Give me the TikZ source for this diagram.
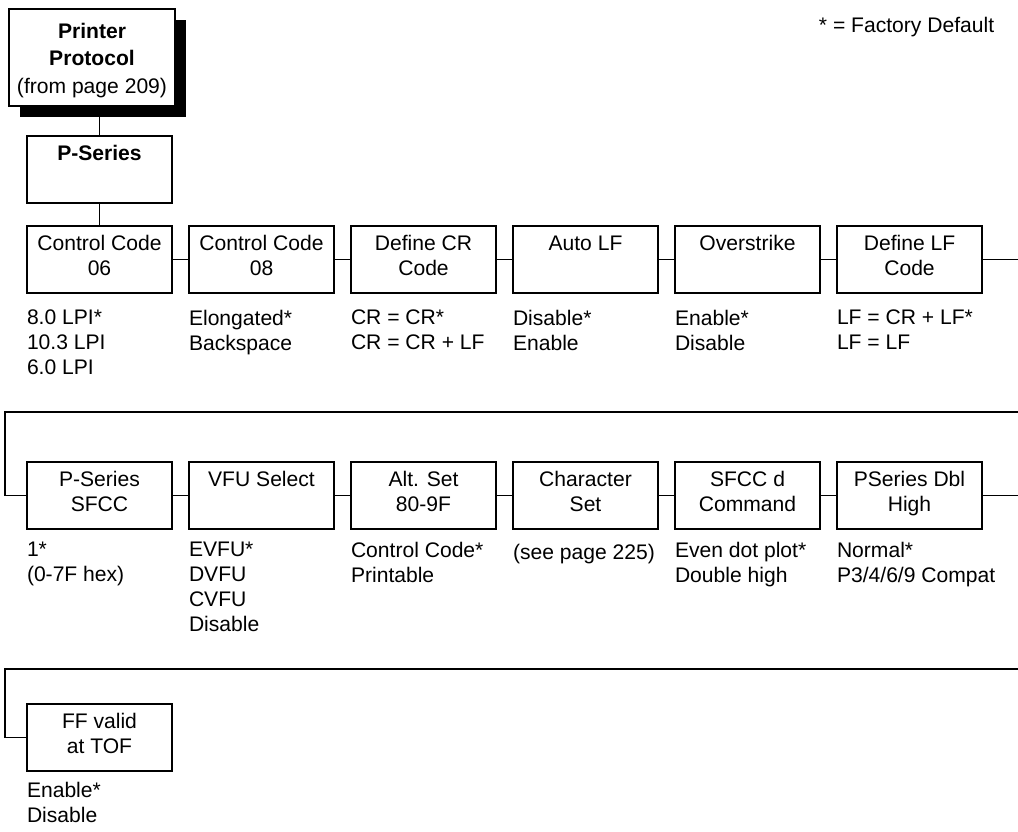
\documentclass[tikz,border=0pt]{standalone}
\usepackage{fontspec}
\setmainfont{Liberation Sans}
\usetikzlibrary{shadows}

\tikzset{
  menubox/.style={draw, rectangle, fill=white, minimum width=2.9cm, minimum height=1.34cm, align=center, inner sep=0pt,
    execute at begin node=\strut, execute at end node=\strut},
  optlist/.style={anchor=north west, align=left, inner sep=0pt, execute at begin node=\strut},
}

\begin{document}
\begin{tikzpicture}[line width=1.1pt, every node/.style={font=\fontsize{12}{14.2}\selectfont}]
\useasboundingbox (0,0) rectangle (20.36,-16.62);
\coordinate (edgeR) at (20.5,0);
\coordinate (wrap1) at (0.1,-8.24);
\coordinate (wrap2) at (0.1,-13.38);
\node[anchor=west, inner sep=0pt] (legend) at (16.36,-0.54) {* = Factory Default};
\node[menubox, minimum width=3.32cm, minimum height=1.94cm, drop shadow={shadow xshift=0.21cm, shadow yshift=-0.21cm, fill=black, opacity=1}] (proto) at (1.84,-1.15) {\rule{0pt}{13.9pt}\textbf{Printer}\\[1.3pt]\textbf{Protocol}\\[1.3pt](from page 209)};
\node[menubox] (pseries) at (1.99,-3.39) {\textbf{P-Series}\\};
% first row
\foreach \n/\i/\t in {cc06/0/{Control Code\\06}, cc08/1/{Control Code\\08}, defcr/2/{Define CR\\Code}, autolf/3/{Auto LF\\}, ovstrike/4/{Overstrike\\}, deflf/5/{Define LF\\Code}}
  \node[menubox] (\n) at ({1.99+3.24*\i},-5.19) {\t};
\foreach \n/\t in {cc06/{8.0 LPI*\\10.3 LPI\\6.0 LPI}, cc08/{Elongated*\\Backspace}, defcr/{CR = CR*\\CR = CR + LF}, autolf/{Disable*\\Enable}, ovstrike/{Enable*\\Disable}, deflf/{LF = CR + LF*\\LF = LF}}
  \node[optlist] (\n-opt) at ([yshift=-0.3cm]\n.south west) {\t};
% second row
\foreach \n/\i/\t in {sfcc/0/{P-Series\\SFCC}, vfu/1/{VFU Select\\}, altset/2/{Alt. Set\\80-9F}, charset/3/{Character\\Set}, sfccd/4/{SFCC d\\Command}, dblhigh/5/{PSeries Dbl\\High}}
  \node[menubox] (\n) at ({1.99+3.24*\i},-9.91) {\t};
\foreach \n/\t in {sfcc/{1*\\(0-7F hex)}, vfu/{EVFU*\\DVFU\\CVFU\\Disable}, altset/{Control Code*\\Printable}, charset/{(see page 225)}, sfccd/{Even dot plot*\\Double high}, dblhigh/{Normal*\\P3/4/6/9 Compat}}
  \node[optlist] (\n-opt) at ([yshift=-0.22cm]\n.south west) {\t};
% third row
\node[menubox] (fftof) at (1.99,-14.75) {FF valid\\at TOF};
\node[optlist] (fftof-opt) at ([yshift=-0.18cm]fftof.south west) {Enable*\\Disable};
% connectors
\draw (pseries.north) -- (pseries.north |- proto.south);
\foreach \a/\b in {pseries/cc06, cc06/cc08, cc08/defcr, defcr/autolf, autolf/ovstrike, ovstrike/deflf, sfcc/vfu, vfu/altset, altset/charset, charset/sfccd, sfccd/dblhigh}
  \draw (\a) -- (\b);
\draw (deflf) -- (deflf -| edgeR);
\draw (sfcc) -| (wrap1) -- (wrap1 -| edgeR);
\draw (dblhigh) -- (dblhigh -| edgeR);
\draw (fftof) -| (wrap2) -- (wrap2 -| edgeR);
\end{tikzpicture}
\end{document}
